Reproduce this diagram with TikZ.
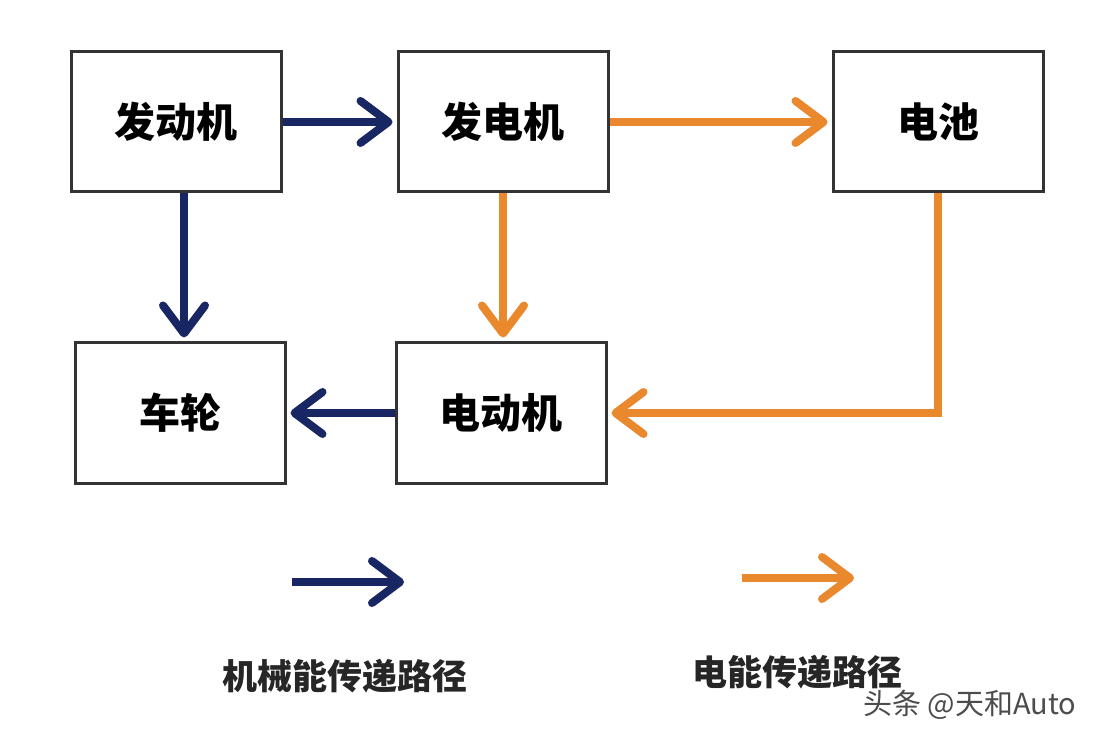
\documentclass[tikz,border=0pt]{standalone}
\usepackage{fontspec}
\newfontfamily\cjk{Noto Sans CJK SC}
\usepackage{xcolor}
\usetikzlibrary{arrows.meta}
\definecolor{mechblue}{RGB}{24,38,100}
\definecolor{elecorange}{RGB}{233,136,44}
\tikzset{
	block/.style={draw=black!80, line width=1.5pt, minimum width=105pt, minimum height=70pt, font=\cjk\bfseries\fontsize{20.5}{24}\selectfont},
	mech/.style={mechblue, line width=4pt, -{Straight Barb[length=14pt,width=21pt,round]}, shorten >=2pt},
	elec/.style={elecorange, line width=4pt, -{Straight Barb[length=14pt,width=21pt,round]}, shorten >=2pt},
	legendtext/.style={font=\cjk\bfseries\fontsize{17.5}{20}\selectfont, text=black!85}
}

\begin{document}
\begin{tikzpicture}[x=0.5pt, y=-0.5pt]
		\useasboundingbox[fill=white] (0,0) rectangle (1096,742);

		% Boxes
		\node[block] (eng) at (176,122) {发动机};
		\node[block] (gen) at (503,122) {发电机};
		\node[block] (bat) at (938,122) {电池};
		\node[block] (whl) at (180,413) {车轮};
		\node[block] (mot) at (501,413) {电动机};

		% Mechanical energy
		\draw[mech] (eng) -- (gen);
		\draw[mech] ([xshift=4pt]eng.south) -- ([xshift=4pt]eng.south |- whl.north);
		\draw[mech] (mot) -- (whl);

		% Electrical energy
		\draw[elec] (gen) -- (bat);
		\draw[elec] (gen.south) -- (gen.south |- mot.north);
		\draw[elec] (bat.south) |- (mot.east);

		% Legend
		\coordinate (ma) at (292,582);
		\coordinate (mb) at (404,582);
		\coordinate (ea) at (742,578);
		\coordinate (eb) at (854,578);
		\draw[mech, shorten >=0pt] (ma) -- (mb);
		\draw[elec, shorten >=0pt] (ea) -- (eb);
		\node[legendtext] (mlabel) at (345,676) {机械能传递路径};
		\node[legendtext] (elabel) at (797,672) {电能传递路径};

		% Watermark
		\node[font=\cjk\fontsize{14.5}{17}\selectfont, text=black!70] (mark) at (970,705) {头条 @天和Auto};
	\end{tikzpicture}
\end{document}
